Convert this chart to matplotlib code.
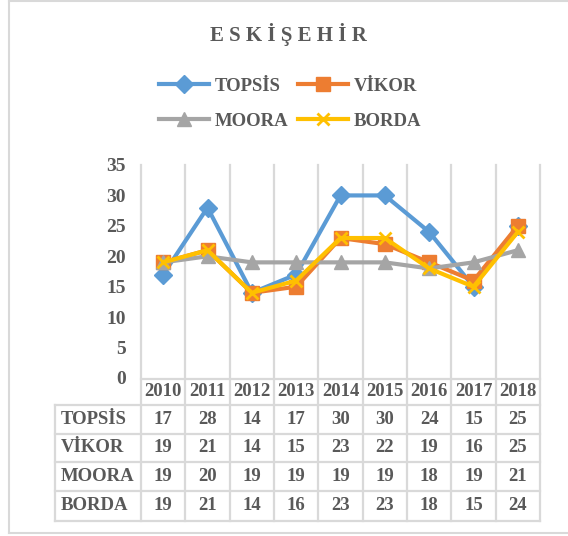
import matplotlib.pyplot as plt
from matplotlib.transforms import blended_transform_factory

years = ['2010', '2011', '2012', '2013', '2014', '2015', '2016', '2017', '2018']
topsis = [17, 28, 14, 17, 30, 30, 24, 15, 25]
vikor = [19, 21, 14, 15, 23, 22, 19, 16, 25]
moora = [19, 20, 19, 19, 19, 19, 18, 19, 21]
borda = [19, 21, 14, 16, 23, 23, 18, 15, 24]
methods = ['TOPSİS', 'VİKOR', 'MOORA', 'BORDA']
yticks = [0, 5, 10, 15, 20, 25, 30, 35]

plt.rcParams['font.family'] = ['Liberation Serif', 'DejaVu Serif']
plt.rcParams['font.weight'] = 'bold'
txt = '#595959'
gcol = '#D9D9D9'

W, H = 568, 536
fig = plt.figure(figsize=(W / 100, H / 100), dpi=100)

# overlay in pixel units for the frame and the data table
ov = fig.add_axes([0, 0, 1, 1])
ov.set_xlim(0, W)
ov.set_ylim(H, 0)
ov.axis('off')

ax = fig.add_axes([141 / W, (H - 378) / H, 399 / W, 213 / H])
ax.patch.set_alpha(0)
x = list(range(len(years)))
colors = ['#5B9BD5', '#ED7D31', '#A5A5A5', '#FFC000']
series = [topsis, vikor, moora, borda]
markers = [('D', 9.5, 1), ('s', 10, 1), ('^', 10.5, 1), ('x', 9, 2)]
lines = []
for vals, name, c, (m, ms, mew) in zip(series, methods, colors, markers):
    l, = ax.plot(x, vals, color=c, lw=3, marker=m, ms=ms, mew=mew, mec=c, mfc=c, label=name, zorder=3)
    lines.append(l)

ax.set_xlim(-0.5, len(years) - 0.5)
ax.set_ylim(0, 35)
ax.set_yticks(yticks)
ax.set_yticklabels([str(v) for v in yticks], fontsize=14, color=txt)
ax.tick_params(axis='y', length=0, pad=11)
ax.set_xticks([])
for s in ax.spines.values():
    s.set_visible(False)

# table / grid geometry (pixels)
tr = blended_transform_factory(ax.transData, ov.transData)
bounds = [i - 0.5 for i in range(len(years) + 1)]
row_edges = [405, 434, 462, 491, 521]
for b in bounds:
    ov.plot([b, b], [165, row_edges[-1]], color=gcol, lw=1.6, transform=tr, zorder=1)
ov.plot([bounds[0], bounds[-1]], [379, 379], color=gcol, lw=1.6, transform=tr)
for ye in row_edges:
    ov.plot([55, 540], [ye, ye], color=gcol, lw=1.6)
ov.plot([55, 55], [row_edges[0], row_edges[-1]], color=gcol, lw=1.6)

for i, yr in enumerate(years):
    ov.text(i, 392, yr, transform=tr, ha='center', va='center', fontsize=13.5, color=txt)
for r, (name, vals) in enumerate(zip(methods, series)):
    yc = (row_edges[r] + row_edges[r + 1]) / 2
    ov.text(61, yc, name, ha='left', va='center', fontsize=13.5, color=txt)
    for i, v in enumerate(vals):
        ov.text(i, yc, str(v), transform=tr, ha='center', va='center', fontsize=13.5, color=txt)

# chart frame
ov.plot([9, 9], [1, 533], color=gcol, lw=1.5)
ov.plot([9, W], [1, 1], color=gcol, lw=1.5)
ov.plot([9, W], [533, 533], color=gcol, lw=1.5)

fig.text(288 / W, 1 - 35 / H, 'E S K İ Ş E H İ R', ha='center', va='center',
         fontsize=15, color=txt)

fig.legend([lines[0], lines[2], lines[1], lines[3]],
           [methods[0], methods[2], methods[1], methods[3]],
           loc='center', bbox_to_anchor=(290 / W, 1 - 103.5 / H), ncol=2,
           frameon=False, fontsize=13.5, labelcolor=txt, handlelength=2.7,
           handletextpad=0.3, columnspacing=0.5, labelspacing=0.95)

fig.savefig('out.png', dpi=100)
